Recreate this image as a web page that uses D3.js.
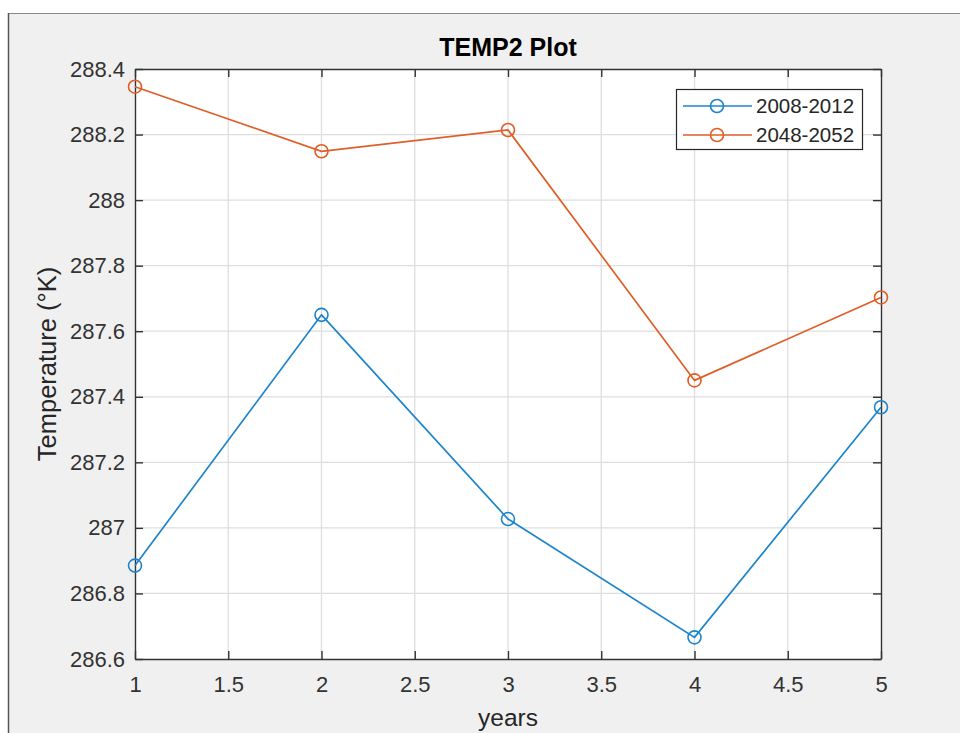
<!DOCTYPE html>
<html>
<head>
<meta charset="utf-8">
<script src="https://d3js.org/d3.v7.min.js"></script>
<style>
  body { margin: 0; background: white; }
  text { font-family: "Liberation Sans", Arial, Helvetica, sans-serif; fill: #262626; }
</style>
</head>
<body>
<div id="chart"></div>
<script>
var years = [1, 2, 3, 4, 5]
var temp_2008_2012 = [286.885, 287.650, 287.027, 286.666, 287.368]
var temp_2048_2052 = [288.346, 288.149, 288.214, 287.450, 287.703]
var seriesNames = ["2008-2012", "2048-2052"]
var seriesColors = ["#1c84cc", "#df5e28"]
var xTicks = [1, 1.5, 2, 2.5, 3, 3.5, 4, 4.5, 5]
var yTicks = [286.6, 286.8, 287, 287.2, 287.4, 287.6, 287.8, 288, 288.2, 288.4]

var width = 960
var height = 733
var margin = {top: 69, right: 79, bottom: 74, left: 135}
var plotW = width - margin.left - margin.right
var plotH = height - margin.top - margin.bottom

var svg = d3.select("#chart")
    .append("svg")
    .attr("width", width)
    .attr("height", height)

// window frame
svg.append("rect")
    .attr("x", 8).attr("y", 13)
    .attr("width", width - 8).attr("height", height - 13)
    .style("fill", "#f0f0f0")
svg.append("line")
    .attr("x1", 8).attr("x2", width).attr("y1", 13.5).attr("y2", 13.5)
    .style("stroke", "#8a8a8a").style("stroke-width", 1.2)
svg.append("line")
    .attr("x1", 8.5).attr("x2", 8.5).attr("y1", 13).attr("y2", height)
    .style("stroke", "#555").style("stroke-width", 1.5)

var x_scale = d3.scaleLinear().domain([1, 5]).range([0, plotW])
var y_scale = d3.scaleLinear().domain([286.6, 288.4]).range([plotH, 0])

var chart = svg.append("g")
    .attr("transform", "translate(" + margin.left + "," + margin.top + ")")

chart.append("rect")
    .attr("width", plotW).attr("height", plotH)
    .style("fill", "white")

// grid
chart.append("g").selectAll("line")
    .data(xTicks.slice(1, -1))
    .enter().append("line")
    .attr("x1", function(d) { return x_scale(d) }).attr("x2", function(d) { return x_scale(d) })
    .attr("y1", 0).attr("y2", plotH)
    .style("stroke", "#dedede").style("stroke-width", 1.3)
chart.append("g").selectAll("line")
    .data(yTicks.slice(1, -1))
    .enter().append("line")
    .attr("y1", function(d) { return y_scale(d) }).attr("y2", function(d) { return y_scale(d) })
    .attr("x1", 0).attr("x2", plotW)
    .style("stroke", "#dedede").style("stroke-width", 1.3)

// axes (ticks inward, box on)
var fmt = function(d) { return d3.format("")(+d.toFixed(1)) }
var xAxis = d3.axisBottom(x_scale).tickValues(xTicks).tickSizeInner(-8).tickSizeOuter(0).tickPadding(18).tickFormat(fmt)
var yAxis = d3.axisLeft(y_scale).tickValues(yTicks).tickSizeInner(-8).tickSizeOuter(0).tickPadding(18).tickFormat(fmt)
var xTop = d3.axisTop(x_scale).tickValues(xTicks).tickSizeInner(-8).tickSizeOuter(0).tickFormat("")
var yRight = d3.axisRight(y_scale).tickValues(yTicks).tickSizeInner(-8).tickSizeOuter(0).tickFormat("")

chart.append("g").attr("class", "x axis").attr("transform", "translate(0," + plotH + ")").call(xAxis)
chart.append("g").attr("class", "y axis").call(yAxis)
chart.append("g").attr("class", "axis").call(xTop)
chart.append("g").attr("class", "axis").attr("transform", "translate(" + plotW + ",0)").call(yRight)

chart.selectAll(".axis path, .axis line").style("stroke", "#333").style("stroke-width", 1.4)
chart.selectAll(".axis text").style("font-size", "22px").style("fill", "#333")
    .style("font-family", "'Liberation Sans', Arial, sans-serif")
chart.selectAll(".y.axis text").attr("x", -10)
chart.selectAll(".x.axis text").attr("y", 17)

// series
var seriesData = [temp_2008_2012, temp_2048_2052]
var line = d3.line()
    .x(function(d, i) { return x_scale(years[i]) })
    .y(function(d) { return y_scale(d) })

seriesData.forEach(function(vals, s) {
    chart.append("path")
        .datum(vals)
        .attr("d", line)
        .style("fill", "none")
        .style("stroke", seriesColors[s])
        .style("stroke-width", 1.7)
    chart.append("g").selectAll("circle")
        .data(vals)
        .enter().append("circle")
        .attr("cx", function(d, i) { return x_scale(years[i]) })
        .attr("cy", function(d) { return y_scale(d) })
        .attr("r", 6.5)
        .style("fill", "none")
        .style("stroke", seriesColors[s])
        .style("stroke-width", 1.6)
})

// title and labels
svg.append("text")
    .attr("x", margin.left + plotW / 2).attr("y", 56)
    .attr("text-anchor", "middle")
    .style("font-size", "25px").style("font-weight", "bold").style("fill", "#000")
    .text("TEMP2 Plot")
svg.append("text")
    .attr("x", margin.left + plotW / 2).attr("y", 726)
    .attr("text-anchor", "middle")
    .style("font-size", "24.5px")
    .text("years")
svg.append("text")
    .attr("transform", "translate(56," + (margin.top + plotH / 2) + ") rotate(-90)")
    .attr("text-anchor", "middle")
    .style("font-size", "25.5px")
    .text("Temperature (°K)")

// legend
var legend = svg.append("g").attr("transform", "translate(676,89)")
legend.append("rect")
    .attr("x", 0.5).attr("y", 0.5).attr("width", 186).attr("height", 60)
    .style("fill", "white").style("stroke", "#262626").style("stroke-width", 1.2)
seriesNames.forEach(function(name, s) {
    var yy = 17 + s * 29
    legend.append("line")
        .attr("x1", 7).attr("x2", 76).attr("y1", yy).attr("y2", yy)
        .style("stroke", seriesColors[s]).style("stroke-width", 1.7)
    legend.append("circle")
        .attr("cx", 41).attr("cy", yy).attr("r", 6.5)
        .style("fill", "none").style("stroke", seriesColors[s]).style("stroke-width", 1.6)
    legend.append("text")
        .attr("x", 80).attr("y", yy + 7)
        .style("font-size", "20.5px")
        .text(name)
})
</script>
</body>
</html>
